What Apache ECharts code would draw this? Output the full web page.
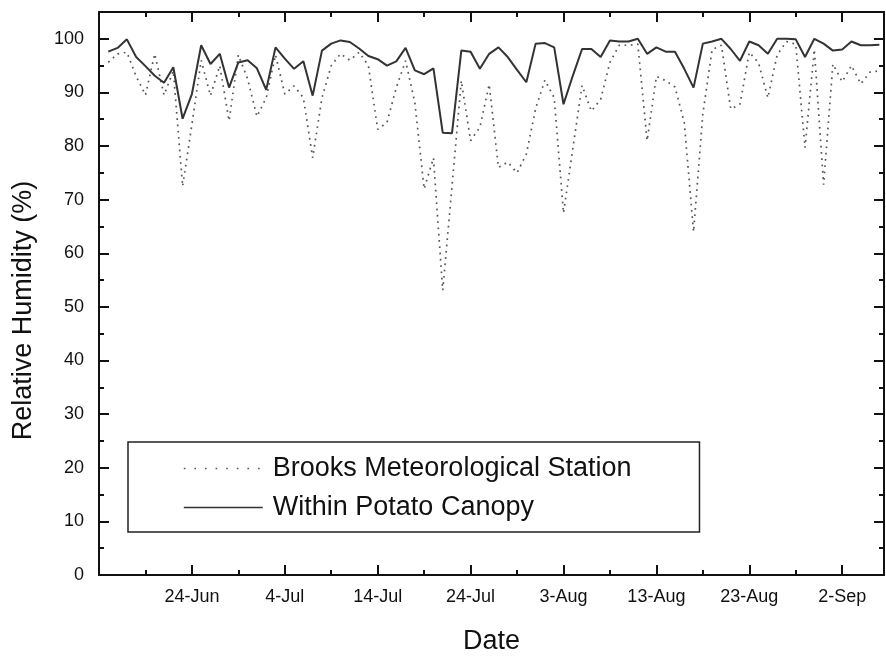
<!DOCTYPE html>
<html><head><meta charset="utf-8">
<script src="https://cdn.jsdelivr.net/npm/echarts@6/dist/echarts.min.js"></script>
<style>html,body{margin:0;padding:0;background:#fff}#c{width:886px;height:657px}</style>
</head><body><div id="c"></div>
<script>
// x axis: days after 14-Jun; first reading on day 1 (15-Jun), daily
const firstDay = 1;
const brooks = [
 95.6, 97.2, 97.5, 93.0, 89.5, 97.2, 89.5, 94.0, 72.5, 84.0,
 96.0, 89.4, 95.0, 84.7, 97.0, 92.5, 85.5, 89.0, 97.0, 89.7,
 91.2, 89.0, 77.8, 89.0, 95.0, 97.2, 96.0, 97.5, 95.0, 83.1,
 84.4, 90.9, 95.9, 88.1, 72.0, 77.8, 53.1, 72.5, 92.2, 81.0,
 83.5, 91.5, 76.0, 77.0, 75.0, 78.5, 87.0, 92.3, 89.0, 67.5,
 79.5, 91.3, 86.5, 88.7, 95.6, 98.8, 98.8, 99.0, 81.0, 93.0,
 92.2, 91.0, 84.4, 64.0, 86.0, 98.0, 98.8, 86.9, 87.8, 97.5,
 95.5, 89.0, 97.0, 99.5, 99.0, 79.7, 98.0, 72.8, 95.3, 92.0,
 95.0, 91.6, 93.8, 94.0
];
const canopy = [
 97.6, 98.3, 99.9, 96.6, 94.9, 93.1, 91.8, 94.7, 85.1, 89.7,
 98.8, 95.3, 97.2, 90.9, 95.6, 96.0, 94.5, 90.5, 98.4, 96.3,
 94.4, 95.8, 89.4, 97.8, 99.1, 99.7, 99.4, 98.2, 96.8, 96.2,
 95.0, 95.8, 98.3, 94.1, 93.4, 94.5, 82.5, 82.4, 97.8, 97.6,
 94.4, 97.2, 98.4, 96.6, 94.2, 91.9, 99.1, 99.2, 98.4, 87.8,
 93.1, 98.1, 98.1, 96.6, 99.7, 99.5, 99.5, 100.0, 97.2, 98.4,
 97.6, 97.6, 94.4, 90.9, 99.1, 99.5, 100.0, 98.1, 95.9, 99.5,
 98.8, 97.2, 100.0, 100.0, 99.9, 96.6, 100.0, 99.1, 97.8, 98.0,
 99.5, 98.8, 98.8, 98.9
];
const xTickDays = [10, 20, 30, 40, 50, 60, 70, 80];
const xTickLabels = ['24-Jun', '4-Jul', '14-Jul', '24-Jul', '3-Aug', '13-Aug', '23-Aug', '2-Sep'];
const seriesNames = ['Brooks Meteorological Station', 'Within Potato Canopy'];

const FONT = '"Liberation Sans", Arial, sans-serif';
const INK = '#111';
const X_MAX = 84.5, Y_MAX = 105;

function xAx(pos, major, main) {
  return {
    type: 'value', position: pos, min: 0, max: X_MAX, interval: major ? 10 : 5,
    axisLine: { show: major, onZero: false, lineStyle: { color: INK, width: 2 } },
    axisTick: { show: true, inside: true, length: major ? 10 : 5, lineStyle: { color: INK, width: 2 } },
    axisLabel: main ? {
      show: true, margin: 13, color: INK, fontSize: 18, fontFamily: FONT,
      formatter: v => { const i = xTickDays.indexOf(Math.round(v * 10) / 10); return i >= 0 ? xTickLabels[i] : ''; }
    } : { show: false },
    splitLine: { show: false },
    name: main ? 'Date' : '', nameLocation: 'middle', nameGap: 53,
    nameTextStyle: { fontSize: 27, fontFamily: FONT, color: INK }
  };
}
function yAx(pos, major, main) {
  return {
    type: 'value', position: pos, min: 0, max: Y_MAX, interval: major ? 10 : 5,
    axisLine: { show: major, onZero: false, lineStyle: { color: INK, width: 2 } },
    axisTick: { show: true, inside: true, length: major ? 10 : 5, lineStyle: { color: INK, width: 2 } },
    axisLabel: main ? {
      show: true, margin: 15, color: INK, fontSize: 18, fontFamily: FONT,
      formatter: v => (v > 100 ? '' : String(v))
    } : { show: false },
    splitLine: { show: false },
    name: main ? 'Relative Humidity (%)' : '', nameLocation: 'middle', nameGap: 62,
    nameTextStyle: { fontSize: 27, fontFamily: FONT, color: INK, padding: [0, 34, 0, 0] }
  };
}

const hiddenSymbol = { opacity: 0, borderWidth: 0, color: 'rgba(0,0,0,0)' };
const chart = echarts.init(document.getElementById('c'), null, { renderer: 'canvas' });
chart.setOption({
  animation: false,
  backgroundColor: '#fff',
  grid: { left: 99, right: 2, top: 12, bottom: 82, containLabel: false, outerBoundsMode: 'none' },
  xAxis: [xAx('bottom', true, true), xAx('bottom', false, false), xAx('top', true, false), xAx('top', false, false)],
  yAxis: [yAx('left', true, true), yAx('left', false, false), yAx('right', true, false), yAx('right', false, false)],
  legend: {
    orient: 'vertical', left: 128, top: 442, padding: [13, 68, 11, 55], itemGap: 12,
    itemWidth: 79, itemHeight: 27, borderColor: '#222', borderWidth: 1.5, backgroundColor: '#fff',
    selectedMode: false,
    itemStyle: hiddenSymbol,
    textStyle: { fontSize: 27, fontFamily: FONT, color: INK, padding: [0, 0, 0, 5] },
    data: [
      { name: seriesNames[0], itemStyle: hiddenSymbol, lineStyle: { type: [1.6, 9], color: '#555', width: 1.6 } },
      { name: seriesNames[1], itemStyle: hiddenSymbol, lineStyle: { color: '#333', width: 1.6 } }
    ]
  },
  series: [
    {
      name: seriesNames[0], type: 'line', symbol: 'none', xAxisIndex: 0, yAxisIndex: 0,
      data: brooks.map((v, i) => [firstDay + i, v]),
      lineStyle: { color: '#555', width: 1.7, type: [1.7, 4.6] }, itemStyle: { color: '#555' }, z: 2
    },
    {
      name: seriesNames[1], type: 'line', symbol: 'none', xAxisIndex: 0, yAxisIndex: 0,
      data: canopy.map((v, i) => [firstDay + i, v]),
      lineStyle: { color: '#333', width: 2 }, itemStyle: { color: '#333' }, z: 3
    }
  ]
});
</script></body></html>
